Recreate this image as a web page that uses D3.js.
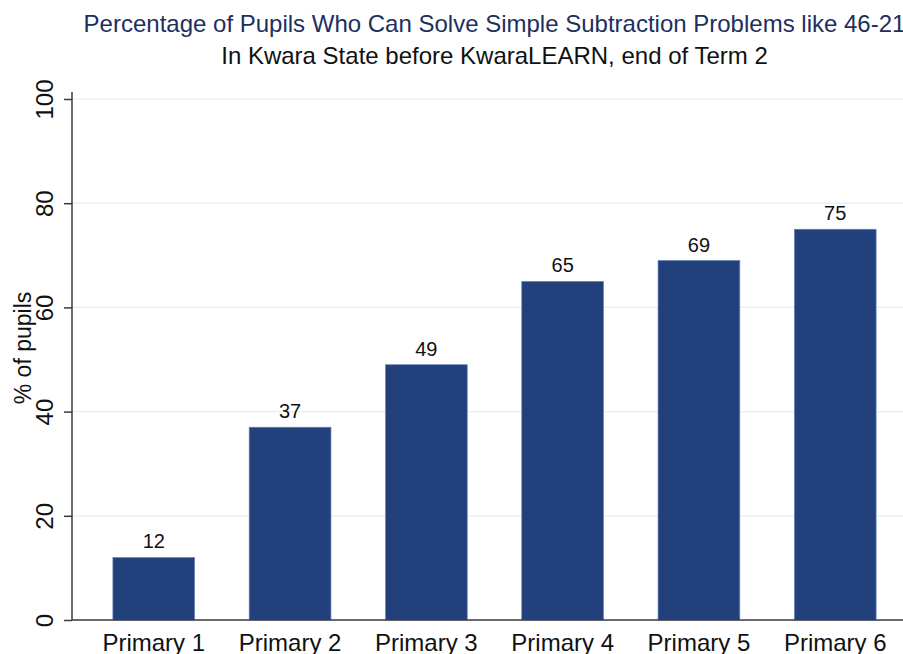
<!DOCTYPE html>
<html>
<head>
<meta charset="utf-8">
<script src="https://cdn.jsdelivr.net/npm/d3@7"></script>
<style>
  html, body { margin: 0; padding: 0; background: #fff; }
  svg { display: block; font-family: "Liberation Sans", Arial, Helvetica, sans-serif; }
</style>
</head>
<body>
<svg id="chart" width="903" height="654"></svg>
<script>
// Share of pupils solving simple subtraction, by grade
const grades = ["Primary 1", "Primary 2", "Primary 3", "Primary 4", "Primary 5", "Primary 6"];
const pctPupils = [12, 37, 49, 65, 69, 75];
const yTicks = [0, 20, 40, 60, 80, 100];

const titleText = "Percentage of Pupils Who Can Solve Simple Subtraction Problems like 46-21";
const subtitleText = "In Kwara State before KwaraLEARN, end of Term 2";
const yLabel = "% of pupils";

const svg = d3.select("#chart");
const W = 903, H = 654;
const plot = { left: 72, top: 99, bottom: 620, right: 917 };

const x = d3.scaleBand()
  .domain(grades)
  .range([plot.left, plot.right])
  .paddingInner(0.4)
  .paddingOuter(0.3);

const y = d3.scaleLinear()
  .domain([0, 100])
  .range([plot.bottom, plot.top]);

// horizontal gridlines
svg.append("g")
  .selectAll("line")
  .data(yTicks.filter(d => d > 0))
  .join("line")
  .attr("x1", plot.left)
  .attr("x2", W)
  .attr("y1", d => y(d))
  .attr("y2", d => y(d))
  .attr("stroke", "#e4edf2")
  .attr("stroke-width", 1.2);

// bars
svg.append("g")
  .selectAll("rect")
  .data(grades)
  .join("rect")
  .attr("x", d => x(d))
  .attr("width", x.bandwidth())
  .attr("y", (d, i) => y(pctPupils[i]))
  .attr("height", (d, i) => y(0) - y(pctPupils[i]))
  .attr("fill", "#22407c")
  .attr("stroke", "#6b86bb")
  .attr("stroke-width", 0.7);

// value labels
svg.append("g")
  .selectAll("text")
  .data(grades)
  .join("text")
  .attr("x", d => x(d) + x.bandwidth() / 2)
  .attr("y", (d, i) => y(pctPupils[i]) - 9)
  .attr("text-anchor", "middle")
  .attr("font-size", 20)
  .attr("fill", "#111")
  .text((d, i) => d3.format("d")(pctPupils[i]));

// y axis
const yAxis = svg.append("g")
  .attr("transform", `translate(${plot.left},0)`)
  .call(d3.axisLeft(y).tickValues(yTicks).tickSize(8).tickPadding(0).tickFormat(d3.format("d")));
yAxis.select(".domain").attr("stroke", "#3a3a3a").attr("stroke-width", 1.5)
  .attr("d", `M0,92V${plot.bottom}`);
yAxis.selectAll(".tick line").attr("stroke", "#3a3a3a").attr("stroke-width", 1.5);
yAxis.selectAll(".tick text")
  .attr("font-size", 24)
  .attr("fill", "#111")
  .attr("font-family", "Liberation Sans, Arial, sans-serif")
  .attr("text-anchor", "middle")
  .attr("dy", 0)
  .attr("transform", "rotate(-90)")
  .attr("x", 0)
  .attr("y", -19);

// x axis
const xAxis = svg.append("g")
  .attr("transform", `translate(0,${plot.bottom})`)
  .call(d3.axisBottom(x).tickSize(0).tickPadding(31));
xAxis.select(".domain").attr("stroke", "#3a3a3a").attr("stroke-width", 1.5)
  .attr("d", `M${plot.left},0H${W}`);
xAxis.selectAll(".tick text")
  .attr("font-size", 24)
  .attr("fill", "#111")
  .attr("font-family", "Liberation Sans, Arial, sans-serif")
  .attr("dy", 0);

// axis title
svg.append("text")
  .attr("transform", `translate(31,348) rotate(-90)`)
  .attr("text-anchor", "middle")
  .attr("font-size", 23)
  .attr("fill", "#111")
  .text(yLabel);

// titles
const cx = 494.5;
svg.append("text")
  .attr("x", cx).attr("y", 32)
  .attr("text-anchor", "middle")
  .attr("font-size", 24)
  .attr("fill", "#1d2f5e")
  .text(titleText);
svg.append("text")
  .attr("x", cx).attr("y", 64)
  .attr("text-anchor", "middle")
  .attr("font-size", 24)
  .attr("fill", "#111")
  .text(subtitleText);
</script>
</body>
</html>
